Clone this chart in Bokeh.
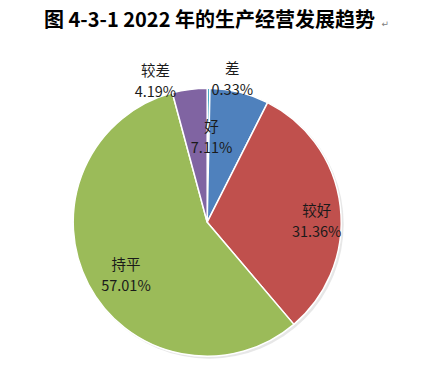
import math
from bokeh.plotting import figure
from bokeh.models import Range1d, Label, ColumnDataSource
from bokeh.core.properties import value
from bokeh.embed import file_html
from bokeh.resources import INLINE

# data (clockwise from 12 o'clock)
categories = ["差", "好", "较好", "持平", "较差"]
percent = [0.33, 7.11, 31.36, 57.01, 4.19]
colors = ["#4BACC6", "#4F81BD", "#C0504D", "#9BBB59", "#8064A2"]
title_text = "图 4-3-1 2022 年的生产经营发展趋势"

# layout (label placement: angle clockwise from top in degrees, radius fraction)
label_angle = [9.9, 2.9, 89.1, 237.7, 340.0]
label_rfrac = [1.089, 0.644, 0.817, 0.717, 1.129]

W, H = 423, 367
cx, cy, R = 206.7, H - 221.7, 134

p = figure(width=W, height=H, output_backend="svg", toolbar_location=None,
           x_range=Range1d(0, W), y_range=Range1d(0, H),
           x_axis_location=None, y_axis_location=None, min_border=0)
p.grid.visible = False
p.outline_line_color = None
p.background_fill_color = "white"

total = sum(percent)
starts, ends = [], []
cum = 0.0
for v in percent:
    a0 = math.pi / 2 - 2 * math.pi * cum / total
    cum += v
    a1 = math.pi / 2 - 2 * math.pi * cum / total
    starts.append(a0)
    ends.append(a1)

# soft shadow
p.circle(x=[cx + 2], y=[cy - 2], radius=R + 0.5, radius_units="screen",
         fill_color="#b0b0b0", fill_alpha=0.3, line_color=None)

src = ColumnDataSource(dict(x=[cx] * len(percent), y=[cy] * len(percent),
                            start=starts, end=ends, color=colors))
p.wedge(x="x", y="y", radius=R, radius_units="screen", start_angle="start",
        end_angle="end", direction="clock", fill_color="color",
        line_color="white", line_width=1.5, source=src)

lx, ly, t1, t2 = [], [], [], []
for cat, v, ang, rf in zip(categories, percent, label_angle, label_rfrac):
    th = math.radians(ang)
    lx.append(cx + R * rf * math.sin(th))
    ly.append(cy + R * rf * math.cos(th))
    t1.append(cat)
    t2.append(f"{v:.2f}%")

lsrc = ColumnDataSource(dict(x=lx, y1=[y + 10.5 for y in ly], y2=[y - 10.5 for y in ly], t1=t1, t2=t2))
p.text(x="x", y="y1", text="t1", source=lsrc, text_align="center", text_baseline="middle",
       text_font=value("Noto Sans CJK SC"), text_font_size="14.5px", text_color="#1a1a1a")
p.text(x="x", y="y2", text="t2", source=lsrc, text_align="center", text_baseline="middle",
       text_font=value("Noto Sans CJK SC"), text_font_size="14.5px", text_color="#1a1a1a")

p.add_layout(Label(x=209, y=H - 18, text=title_text, text_align="center",
                   text_baseline="middle", text_font="Noto Sans CJK SC",
                   text_font_style="bold", text_font_size="20px", text_color="#000000"))
p.add_layout(Label(x=381, y=H - 23, text="↵", text_align="left",
                   text_baseline="middle", text_font="DejaVu Sans",
                   text_font_size="9px", text_color="#808080"))

open("out.html", "w").write(file_html(p, INLINE))
